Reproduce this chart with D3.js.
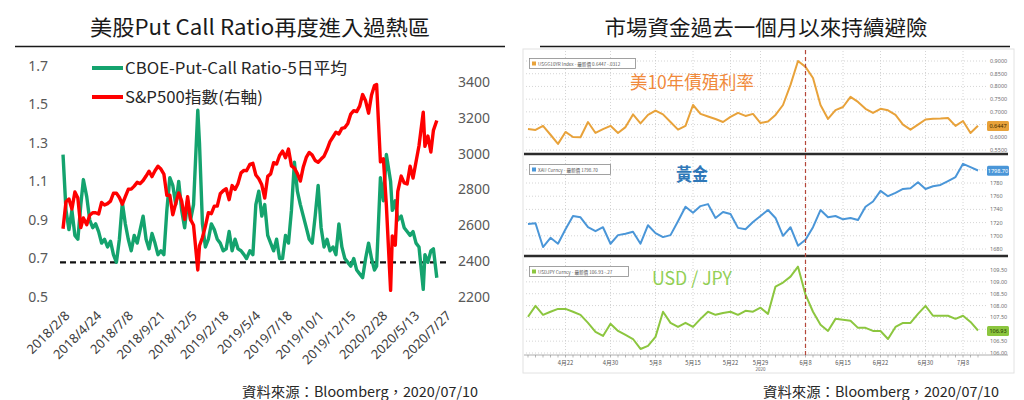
<!DOCTYPE html>
<html>
<head>
<meta charset="utf-8">
<script src="https://cdn.jsdelivr.net/npm/d3@7"></script>
<style>
  body { margin: 0; background: #fff; }
  svg { display: block; font-family: "Noto Sans CJK TC", "Noto Sans", sans-serif; }
</style>
</head>
<body>
<svg id="chart" width="1024" height="400"></svg>
<script>
// ---------- left chart: put/call ratio vs S&P500 (weekly) ----------
const weekDates = [
  "2018-02-09","2018-02-16","2018-02-23","2018-03-02","2018-03-09","2018-03-16","2018-03-23","2018-03-29",
  "2018-04-06","2018-04-13","2018-04-20","2018-04-27","2018-05-04","2018-05-11","2018-05-18","2018-05-25",
  "2018-06-01","2018-06-08","2018-06-15","2018-06-22","2018-06-29","2018-07-06","2018-07-13","2018-07-20",
  "2018-07-27","2018-08-03","2018-08-10","2018-08-17","2018-08-24","2018-08-31","2018-09-07","2018-09-14",
  "2018-09-21","2018-09-28","2018-10-05","2018-10-12","2018-10-19","2018-10-26","2018-11-02","2018-11-09",
  "2018-11-16","2018-11-23","2018-11-30","2018-12-07","2018-12-14","2018-12-24","2018-12-28",
  "2019-01-04","2019-01-11","2019-01-18","2019-01-25","2019-02-01","2019-02-08","2019-02-15","2019-02-22",
  "2019-03-01","2019-03-08","2019-03-15","2019-03-22","2019-03-29","2019-04-05","2019-04-12","2019-04-18",
  "2019-04-26","2019-05-03","2019-05-10","2019-05-17","2019-05-24","2019-05-31","2019-06-07","2019-06-14",
  "2019-06-21","2019-06-28","2019-07-05","2019-07-12","2019-07-19","2019-07-26","2019-08-02","2019-08-09",
  "2019-08-16","2019-08-23","2019-08-30","2019-09-06","2019-09-13","2019-09-20","2019-09-27","2019-10-04",
  "2019-10-11","2019-10-18","2019-10-25","2019-11-01","2019-11-08","2019-11-15","2019-11-22","2019-11-29",
  "2019-12-06","2019-12-13","2019-12-20","2019-12-27",
  "2020-01-03","2020-01-10","2020-01-17","2020-01-24","2020-01-31","2020-02-07","2020-02-14","2020-02-19",
  "2020-02-28","2020-03-06","2020-03-13","2020-03-23","2020-03-27","2020-04-03","2020-04-09","2020-04-17",
  "2020-04-24","2020-05-01","2020-05-08","2020-05-15","2020-05-22","2020-05-29","2020-06-08","2020-06-12",
  "2020-06-19","2020-06-26","2020-07-02","2020-07-10"
];
const putCallRatio = [
  1.24,0.95,0.85,0.95,0.82,0.80,0.98,1.11,1.02,0.90,0.86,0.88,0.84,0.78,0.80,0.76,
  0.79,0.72,0.68,0.80,0.99,0.88,0.80,0.74,0.82,0.78,0.85,0.92,0.80,0.75,0.83,0.78,
  0.72,0.74,0.72,0.95,1.12,1.08,0.98,1.10,0.95,0.86,1.00,0.90,0.98,1.47,1.30,
  0.88,0.76,0.80,0.88,0.85,0.80,0.78,0.74,0.75,0.84,0.74,0.80,0.75,0.74,0.72,0.70,
  0.74,0.72,0.98,1.05,0.92,0.98,0.82,0.78,0.74,0.80,0.70,0.70,0.82,0.78,0.95,1.20,
  1.05,0.98,0.92,0.86,0.80,0.78,0.92,1.08,0.86,0.76,0.80,0.74,0.76,0.72,0.88,0.76,
  0.70,0.68,0.66,0.70,
  0.64,0.62,0.60,0.70,0.78,0.70,0.64,0.66,1.12,1.00,1.24,1.10,0.95,1.00,0.90,0.92,
  0.86,0.84,0.82,0.84,0.78,0.76,0.54,0.72,0.68,0.74,0.75,0.60
];
const spx = [
  2581,2732,2747,2691,2786,2752,2588,2641,2604,2656,2670,2670,2663,2728,2713,2721,
  2735,2779,2780,2755,2718,2760,2801,2802,2819,2840,2833,2850,2875,2902,2872,2905,
  2930,2914,2886,2767,2768,2659,2723,2781,2736,2633,2760,2633,2600,2351,2486,
  2532,2596,2671,2665,2707,2708,2776,2793,2804,2743,2822,2800,2834,2893,2907,2905,
  2940,2946,2881,2860,2826,2752,2873,2887,2950,2942,2990,3014,2977,3026,2932,2919,
  2889,2847,2926,2979,3007,2992,2962,2952,2970,2986,3023,3067,3093,3120,3110,3141,
  3146,3169,3221,3240,
  3235,3265,3330,3295,3226,3328,3380,3386,2954,2972,2711,2237,2541,2489,2790,2875,
  2837,2831,2930,2864,2955,3044,3232,3041,3098,3009,3130,3185
];
const ratioTicks = [0.5, 0.7, 0.9, 1.1, 1.3, 1.5, 1.7];
const spxTicks = [2200, 2400, 2600, 2800, 3000, 3200, 3400];
const dateTicks = ["2018/2/8","2018/4/24","2018/7/8","2018/9/21","2018/12/5","2019/2/18","2019/5/4",
  "2019/7/18","2019/10/1","2019/12/15","2020/2/28","2020/5/13","2020/7/27"];
const ratioAlert = 0.68;

// ---------- right chart: last weeks (daily) ----------
const tradeDays = [
  "2020-04-15","2020-04-16","2020-04-17","2020-04-20","2020-04-21","2020-04-22","2020-04-23","2020-04-24",
  "2020-04-27","2020-04-28","2020-04-29","2020-04-30","2020-05-01","2020-05-04","2020-05-05","2020-05-06",
  "2020-05-07","2020-05-08","2020-05-11","2020-05-12","2020-05-13","2020-05-14","2020-05-15","2020-05-18",
  "2020-05-19","2020-05-20","2020-05-21","2020-05-22","2020-05-26","2020-05-27","2020-05-28","2020-05-29",
  "2020-06-01","2020-06-02","2020-06-03","2020-06-04","2020-06-05","2020-06-08","2020-06-09","2020-06-10",
  "2020-06-11","2020-06-12","2020-06-15","2020-06-16","2020-06-17","2020-06-18","2020-06-19","2020-06-22",
  "2020-06-23","2020-06-24","2020-06-25","2020-06-26","2020-06-29","2020-06-30","2020-07-01","2020-07-02",
  "2020-07-06","2020-07-07","2020-07-08","2020-07-09","2020-07-10"
];
const us10y = [
  0.633,0.629,0.645,0.610,0.574,0.621,0.601,0.600,0.660,0.617,0.632,0.645,0.617,0.640,0.690,0.655,
  0.688,0.705,0.690,0.660,0.630,0.645,0.727,0.692,0.682,0.672,0.660,0.680,0.696,0.684,0.692,0.656,
  0.662,0.688,0.727,0.806,0.900,0.877,0.833,0.727,0.672,0.707,0.719,0.759,0.739,0.712,0.696,0.712,
  0.706,0.688,0.650,0.630,0.650,0.670,0.673,0.674,0.676,0.645,0.664,0.617,0.645
];
const gold = [
  1718,1719,1683,1697,1688,1710,1730,1728,1713,1707,1713,1688,1701,1703,1706,1688,
  1716,1704,1698,1701,1722,1744,1735,1745,1748,1727,1736,1733,1712,1710,1721,1730,
  1739,1727,1700,1713,1685,1694,1713,1739,1728,1730,1725,1727,1724,1744,1752,1768,
  1760,1765,1771,1772,1781,1771,1775,1777,1783,1789,1809,1804,1799
];
const usdjpy = [
  107.53,107.99,107.61,107.74,107.86,107.86,107.74,107.61,107.27,106.89,106.72,107.23,106.93,106.76,106.59,106.17,
  106.30,106.68,107.74,107.27,107.10,107.27,107.10,107.44,107.74,107.61,107.69,107.74,107.61,107.78,107.74,107.91,
  107.65,108.80,108.97,109.22,109.64,108.46,107.74,107.19,106.93,107.44,107.40,107.36,107.06,107.06,106.93,106.93,
  106.59,107.10,107.27,107.27,107.65,107.99,107.57,107.57,107.57,107.44,107.57,107.31,106.95
];
const yieldTicks = [0.55, 0.60, 0.65, 0.70, 0.75, 0.80, 0.85, 0.90];
const goldTicks = [1680, 1700, 1720, 1740, 1760, 1780, 1800];
const jpyTicks = [106.0, 106.5, 107.0, 107.5, 108.0, 108.5, 109.0, 109.5];
const dayTicks = ["2020-04-22","2020-04-30","2020-05-08","2020-05-15","2020-05-22","2020-05-29",
  "2020-06-08","2020-06-15","2020-06-22","2020-06-30","2020-07-08"];
const dayTickLabels = ["4月22","4月30","5月8","5月15","5月22","5月29","6月8","6月15","6月22","6月30","7月8"];
const markerDay = "2020-06-08";

const svg = d3.select("#chart");
const parseISO = d3.timeParse("%Y-%m-%d");
const parseSlash = d3.timeParse("%Y/%m/%d");

// ---------- titles ----------
function title(text, cx, len, x1, x2) {
  svg.append("text")
    .attr("x", cx).attr("y", 35)
    .attr("text-anchor", "middle")
    .attr("font-size", 21)
    .attr("fill", "#1a1a1a")
    .attr("textLength", len).attr("lengthAdjust", "spacingAndGlyphs")
    .text(text);
  svg.append("line")
    .attr("x1", x1).attr("x2", x2).attr("y1", 46.5).attr("y2", 46.5)
    .attr("stroke", "#1a1a1a").attr("stroke-width", 1.5);
}
title("美股Put Call Ratio再度進入過熱區", 260, 340, 15, 505);
title("市場資金過去一個月以來持續避險", 766, 323, 540, 1010);

// ---------- left chart ----------
const xL = d3.scaleTime()
  .domain([parseSlash("2018/2/8"), parseSlash("2020/7/27")])
  .range([62.6, 444]);
const yRatio = d3.scaleLinear().domain([0.5, 1.7]).range([297, 66]);
const ySpx = d3.scaleLinear().domain([2200, 3400]).range([297, 82]);

const left = svg.append("g");

left.append("g")
  .attr("transform", "translate(50,0)")
  .call(d3.axisLeft(yRatio).tickValues(ratioTicks).tickFormat(d3.format(".1f")).tickSize(0).tickPadding(2))
  .call(g => g.select(".domain").remove())
  .selectAll("text")
  .attr("font-family", "Noto Sans, sans-serif")
  .attr("font-size", 14).attr("fill", "#595959");

left.append("g")
  .attr("transform", "translate(456,0)")
  .call(d3.axisRight(ySpx).tickValues(spxTicks).tickFormat(d3.format("d")).tickSize(0).tickPadding(2))
  .call(g => g.select(".domain").remove())
  .selectAll("text")
  .attr("font-family", "Noto Sans, sans-serif")
  .attr("font-size", 14).attr("fill", "#595959");

left.append("g")
  .attr("transform", "translate(0,310)")
  .call(d3.axisBottom(xL)
    .tickValues(dateTicks.map(parseSlash))
    .tickFormat((d, i) => dateTicks[i])
    .tickSize(0).tickPadding(0))
  .call(g => g.select(".domain").remove())
  .selectAll("text")
  .attr("font-family", "Noto Sans, sans-serif")
  .attr("font-size", 13).attr("fill", "#404040")
  .attr("text-anchor", "end")
  .attr("y", 0).attr("dy", "0.7em")
  .attr("transform", "translate(1,0) rotate(-45)");

// alert line
left.append("line")
  .attr("x1", 60).attr("x2", 450)
  .attr("y1", yRatio(ratioAlert)).attr("y2", yRatio(ratioAlert))
  .attr("stroke", "#111").attr("stroke-width", 2.2)
  .attr("stroke-dasharray", "6,4");

const ratioLine = d3.line()
  .x((d, i) => xL(parseISO(weekDates[i])))
  .y(d => yRatio(d));
const spxLine = d3.line()
  .x((d, i) => xL(parseISO(weekDates[i])))
  .y(d => ySpx(d));

left.append("path")
  .attr("d", ratioLine(putCallRatio))
  .attr("fill", "none").attr("stroke", "#14a36e").attr("stroke-width", 3.4)
  .attr("stroke-linejoin", "round");
left.append("path")
  .attr("d", spxLine(spx))
  .attr("fill", "none").attr("stroke", "#ff0000").attr("stroke-width", 3.4)
  .attr("stroke-linejoin", "round");

// legend
const legendItems = [
  { label: "CBOE-Put-Call Ratio-5日平均", color: "#14a36e", y: 68, len: 222 },
  { label: "S&P500指數(右軸)", color: "#ff0000", y: 97, len: 138 }
];
legendItems.forEach(d => {
  left.append("line")
    .attr("x1", 92).attr("x2", 123).attr("y1", d.y).attr("y2", d.y)
    .attr("stroke", d.color).attr("stroke-width", 4);
  left.append("text")
    .attr("x", 125).attr("y", d.y + 6)
    .attr("font-size", 16).attr("fill", "#262626")
    .attr("textLength", d.len).attr("lengthAdjust", "spacingAndGlyphs")
    .text(d.label);
});

// source notes
function source(x) {
  svg.append("text")
    .attr("x", x).attr("y", 397)
    .attr("font-size", 14).attr("fill", "#262626")
    .attr("textLength", 236).attr("lengthAdjust", "spacingAndGlyphs")
    .text("資料來源：Bloomberg，2020/07/10");
}
source(242);
source(763);

// ---------- right chart (terminal style) ----------
const right = svg.append("g");
right.append("rect")
  .attr("x", 523).attr("y", 49).attr("width", 491).attr("height", 324)
  .attr("fill", "#fff").attr("stroke", "#e2e2e2");

const xR = d3.scalePoint().domain(tradeDays).range([528, 978]);

const panels = [
  { values: us10y, ticks: yieldTicks, scale: d3.scaleLinear().domain([0.55, 0.90]).range([150, 61]),
    top: 50, bottom: 154, color: "#e8a23a", fmt: d3.format(".4f"),
    legend: "USGG10YR Index - 最新價 0.6447  -.0312", legendW: 106,
    lastText: "0.6447", boxText: "#3a2a00",
    label: "美10年債殖利率", labelColor: "#f08a3c", labelY: 89, labelLen: 124, labelWeight: 400 },
  { values: gold, ticks: goldTicks, scale: d3.scaleLinear().domain([1680, 1780]).range([249, 183]),
    top: 156, bottom: 256, color: "#4a96d8", fmt: d3.format("d"),
    legend: "XAU Curncy - 最新價 1798.70", legendW: 81,
    lastText: "1798.70", boxText: "#ffffff",
    label: "黃金", labelColor: "#2f78b8", labelY: 181, labelLen: 32, labelWeight: 700 },
  { values: usdjpy, ticks: jpyTicks, scale: d3.scaleLinear().domain([106, 109.5]).range([353, 270]),
    top: 258, bottom: 355, color: "#8cc63f", fmt: d3.format(".2f"),
    legend: "USDJPY Curncy - 最新價 106.93  -.27", legendW: 99,
    lastText: "106.93", boxText: "#1d3300",
    label: "USD / JPY", labelColor: "#92cf55", labelY: 285, labelLen: 80, labelWeight: 400 }
];

panels.forEach(p => {
  const g = right.append("g");
  const ly = p.scale(+p.lastText);
  // horizontal grid + tick labels
  p.ticks.forEach(t => {
    const y = p.scale(t);
    if (y < p.top + 2 || y > p.bottom - 1) return;
    g.append("line")
      .attr("x1", 526).attr("x2", 986).attr("y1", y).attr("y2", y)
      .attr("stroke", "#c9c9c9").attr("stroke-width", 0.8).attr("stroke-dasharray", "1,2");
    if (Math.abs(y - ly) < 7) return; // covered by the last-value box
    g.append("text")
      .attr("x", 990).attr("y", y + 2)
      .attr("font-family", "Noto Sans, sans-serif")
      .attr("font-size", 5.5).attr("fill", "#707070")
      .text(p.fmt(t));
  });
  // vertical grid
  dayTicks.forEach(d => {
    g.append("line")
      .attr("x1", xR(d)).attr("x2", xR(d)).attr("y1", p.top + 1).attr("y2", p.bottom - 1)
      .attr("stroke", "#c9c9c9").attr("stroke-width", 0.8).attr("stroke-dasharray", "1,2");
  });
  // series
  const line = d3.line().x((d, i) => xR(tradeDays[i])).y(d => p.scale(d));
  g.append("path")
    .attr("d", line(p.values))
    .attr("fill", "none").attr("stroke", p.color).attr("stroke-width", 2)
    .attr("stroke-linejoin", "round");
  // last value box
  g.append("rect")
    .attr("x", 987).attr("y", ly - 5).attr("width", 22).attr("height", 10).attr("rx", 1.5)
    .attr("fill", p.color);
  g.append("text")
    .attr("x", 998).attr("y", ly + 2)
    .attr("text-anchor", "middle")
    .attr("font-family", "Noto Sans, sans-serif")
    .attr("font-size", 5.5).attr("fill", p.boxText)
    .text(p.lastText);
  // legend box
  g.append("rect")
    .attr("x", 529.5).attr("y", p.top + 8.5).attr("width", p.legendW).attr("height", 10)
    .attr("fill", "#fff").attr("stroke", "#8a8a8a").attr("stroke-width", 0.8);
  g.append("rect")
    .attr("x", 532).attr("y", p.top + 11.5).attr("width", 4).attr("height", 4)
    .attr("fill", p.color);
  g.append("text")
    .attr("x", 538).attr("y", p.top + 15.5)
    .attr("font-size", 4.6).attr("fill", "#555")
    .text(p.legend);
  // big label
  g.append("text")
    .attr("x", 692).attr("y", p.labelY)
    .attr("text-anchor", "middle")
    .attr("font-size", 18).attr("font-weight", p.labelWeight)
    .attr("fill", p.labelColor)
    .attr("textLength", p.labelLen).attr("lengthAdjust", "spacingAndGlyphs")
    .text(p.label);
  // separator at bottom
  g.append("line")
    .attr("x1", 524).attr("x2", 1008).attr("y1", p.bottom).attr("y2", p.bottom)
    .attr("stroke", p === panels[2] ? "#9a9a9a" : "#2b2b2b")
    .attr("stroke-width", p === panels[2] ? 0.8 : 2.4);
});

// marker line on the peak week
right.append("line")
  .attr("x1", xR(markerDay)).attr("x2", xR(markerDay))
  .attr("y1", 50).attr("y2", 357)
  .attr("stroke", "#b5473a").attr("stroke-width", 1.2).attr("stroke-dasharray", "4,3");

// x axis ticks & labels
const xAxisR = right.append("g");
tradeDays.forEach(d => {
  xAxisR.append("line")
    .attr("x1", xR(d)).attr("x2", xR(d)).attr("y1", 355).attr("y2", 357.5)
    .attr("stroke", "#8a8a8a").attr("stroke-width", 0.6);
});
dayTicks.forEach((d, i) => {
  xAxisR.append("text")
    .attr("x", xR(d)).attr("y", 365)
    .attr("text-anchor", "middle")
    .attr("font-size", 5.8).attr("fill", "#555")
    .text(dayTickLabels[i]);
});
xAxisR.append("text")
  .attr("x", xR("2020-05-29")).attr("y", 371)
  .attr("text-anchor", "middle")
  .attr("font-size", 4.5).attr("fill", "#666")
  .text("2020");
</script>
</body>
</html>
